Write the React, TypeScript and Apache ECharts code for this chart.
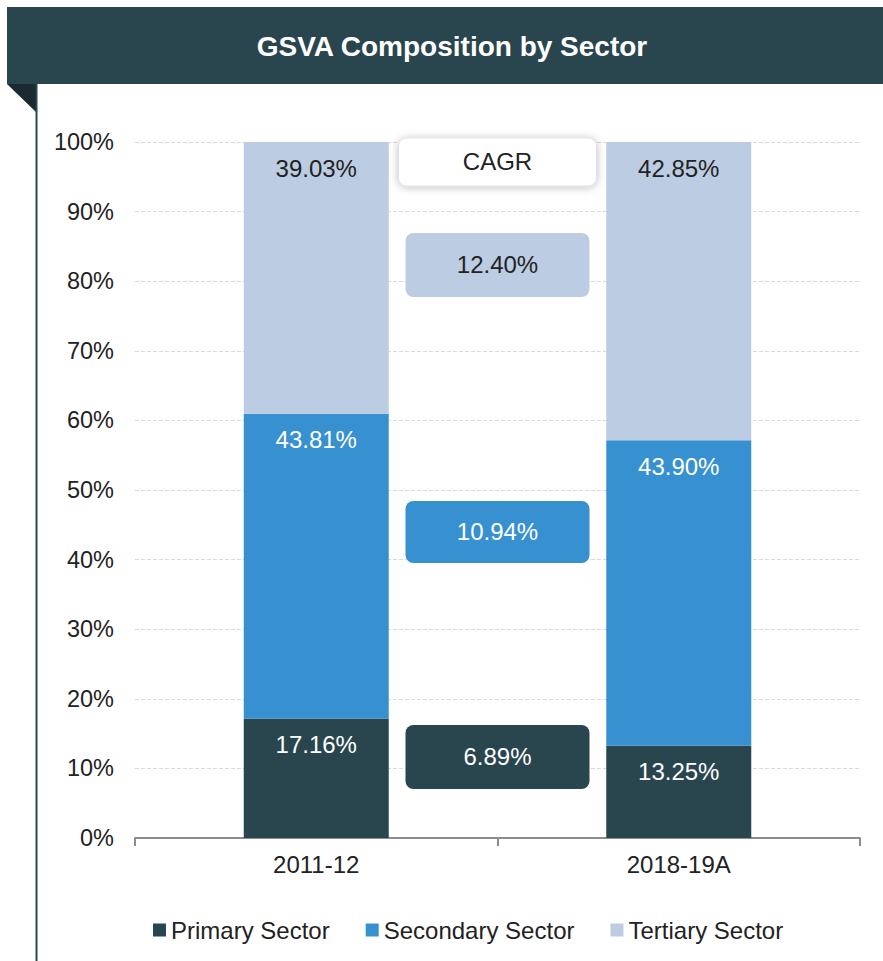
import React, { useEffect, useRef } from "react";
import * as echarts from "echarts";

const categories = ["2011-12", "2018-19A"];
const primaryValues = [17.16, 13.25];
const secondaryValues = [43.81, 43.9];
const tertiaryValues = [39.03, 42.85];
const seriesNames = ["Primary Sector", "Secondary Sector", "Tertiary Sector"];
const cagrHeader = "CAGR";
const cagrValues = [12.4, 10.94, 6.89]; // tertiary, secondary, primary

const FONT = "'Liberation Sans', Arial, sans-serif";
const C_PRIMARY = "#29464f";
const C_SECONDARY = "#3790d0";
const C_TERTIARY = "#bccde3";

export default function App() {
  const ref = useRef<HTMLDivElement>(null);
  useEffect(() => {
    document.body.style.margin = "0";
    if (!ref.current) return;
    const chart = echarts.init(ref.current, undefined, { renderer: "svg" });

    // layout of CAGR boxes (y position in axis units, size, colors)
    const boxes = [
      { text: cagrHeader, y: 97.13, w: 198, h: 48, fill: "#ffffff", color: "#222222", shadow: true },
      { text: cagrValues[0].toFixed(2) + "%", y: 82.33, w: 184, h: 64, fill: C_TERTIARY, color: "#222222", shadow: false },
      { text: cagrValues[1].toFixed(2) + "%", y: 43.97, w: 184, h: 62, fill: C_SECONDARY, color: "#ffffff", shadow: false },
      { text: cagrValues[2].toFixed(2) + "%", y: 11.64, w: 184, h: 64, fill: C_PRIMARY, color: "#ffffff", shadow: false },
    ];

    const barLabel = (color: string) => ({
      show: true,
      position: "insideTop",
      distance: 14,
      color,
      fontSize: 24,
      fontFamily: FONT,
      formatter: (p: any) => Number(p.value).toFixed(2) + "%",
    });

    chart.setOption({
      animation: false,
      textStyle: { fontFamily: FONT },
      graphic: [
        { type: "rect", shape: { x: 7, y: 7, width: 876, height: 77 }, style: { fill: "#29464f" } },
        {
          type: "text",
          x: 452,
          y: 46,
          style: {
            text: "GSVA Composition by Sector",
            fill: "#ffffff",
            fontSize: 28,
            fontWeight: "bold",
            fontFamily: FONT,
            align: "center",
            verticalAlign: "middle",
          },
        },
        { type: "polygon", shape: { points: [[7, 84], [37, 84], [37, 113]] }, style: { fill: "#1b2a30" } },
        { type: "rect", shape: { x: 35.5, y: 84, width: 2, height: 877 }, style: { fill: "#29464f" } },
      ],
      grid: { left: 135, right: 23, top: 142, bottom: 123 },
      legend: {
        data: seriesNames,
        left: 148,
        top: 913,
        icon: "rect",
        itemWidth: 13,
        itemHeight: 13,
        itemGap: 36,
        textStyle: { fontSize: 24, color: "#222222", fontFamily: FONT },
      },
      xAxis: [
        {
          type: "category",
          data: categories,
          axisLine: { lineStyle: { color: "#8c8c8c", width: 2 } },
          axisTick: { show: true, length: 8, lineStyle: { color: "#8c8c8c", width: 2 } },
          axisLabel: { fontSize: 24, color: "#222222", margin: 14, fontFamily: FONT },
        },
        { type: "value", min: 0, max: 2, show: false },
      ],
      yAxis: {
        type: "value",
        min: 0,
        max: 100,
        interval: 10,
        axisLine: { show: false },
        axisTick: { show: false },
        axisLabel: { formatter: "{value}%", fontSize: 23.5, color: "#222222", margin: 21, fontFamily: FONT },
        splitLine: { lineStyle: { color: "#d9d9d9", type: "dashed", width: 1 } },
      },
      series: [
        {
          name: seriesNames[0],
          type: "bar",
          stack: "total",
          barWidth: "40%",
          data: primaryValues,
          itemStyle: { color: C_PRIMARY },
          label: barLabel("#ffffff"),
        },
        {
          name: seriesNames[1],
          type: "bar",
          stack: "total",
          data: secondaryValues,
          itemStyle: { color: C_SECONDARY },
          label: barLabel("#ffffff"),
        },
        {
          name: seriesNames[2],
          type: "bar",
          stack: "total",
          data: tertiaryValues,
          itemStyle: { color: C_TERTIARY },
          label: barLabel("#222222"),
        },
        {
          name: "CAGR",
          type: "custom",
          xAxisIndex: 1,
          clip: false,
          z: 5,
          data: boxes.map((b, i) => [1, b.y, i]),
          renderItem: (params: any, api: any) => {
            const idx = api.value(2);
            const b = boxes[idx];
            const pt = api.coord([api.value(0), api.value(1)]);
            const cx = pt[0];
            const cy = pt[1];
            return {
              type: "group",
              children: [
                {
                  type: "rect",
                  shape: { x: cx - b.w / 2, y: cy - b.h / 2, width: b.w, height: b.h, r: 8 },
                  style: b.shadow
                    ? {
                        fill: b.fill,
                        stroke: "#e0e0e0",
                        lineWidth: 1,
                        shadowBlur: 8,
                        shadowColor: "rgba(0,0,0,0.25)",
                        shadowOffsetX: 0,
                        shadowOffsetY: 1,
                      }
                    : { fill: b.fill },
                },
                {
                  type: "text",
                  x: cx,
                  y: cy,
                  style: {
                    text: b.text,
                    fill: b.color,
                    fontSize: 24,
                    fontFamily: FONT,
                    align: "center",
                    verticalAlign: "middle",
                  },
                },
              ],
            };
          },
        },
      ],
    });
    return () => chart.dispose();
  }, []);
  return <div ref={ref} style={{ width: 883, height: 961 }} />;
}
